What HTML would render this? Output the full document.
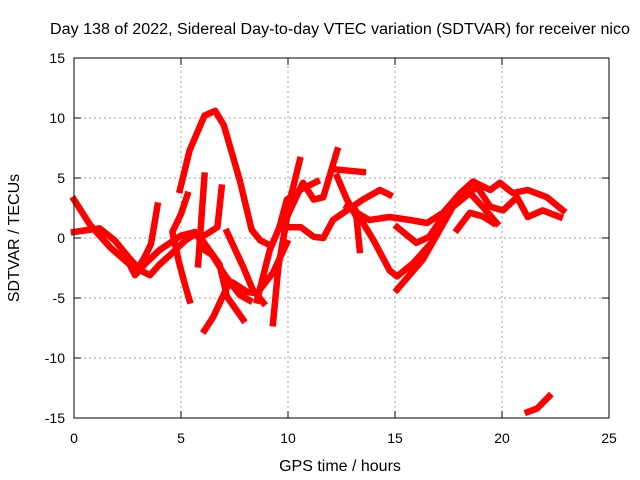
<!DOCTYPE html>
<html><head><meta charset="utf-8"><style>
html,body{margin:0;padding:0;background:#fff;}
svg{display:block;font-family:"Liberation Sans",sans-serif;}
</style></head><body>
<svg id="chart" width="640" height="480">
<text x="340" y="34" font-size="15.5" text-anchor="middle" textLength="580" lengthAdjust="spacingAndGlyphs">Day 138 of 2022, Sidereal Day-to-day VTEC variation (SDTVAR) for receiver nico</text>
<text x="340" y="471" font-size="16" text-anchor="middle">GPS time / hours</text>
<text transform="translate(19,238) rotate(-90)" font-size="16" text-anchor="middle">SDTVAR / TECUs</text>
<g id="grid"></g><g id="ticks"></g><g id="series"></g>
<rect x="74" y="58" width="535" height="360" fill="none" stroke="#000" stroke-width="1"/>
</svg>
<script>
const xTicks=[0,5,10,15,20,25];
const yTicks=[-15,-10,-5,0,5,10,15];
const trackA=[[4.95,4.0],[5.4,7.3],[6.1,10.2],[6.6,10.6],[7.0,9.4],[7.75,4.8],[8.3,0.7],[8.7,-0.2],[9.15,-0.6]];
const trackB=[[0,3.2],[0.75,1.1],[1.7,-0.8],[2.6,-2.2],[2.85,-3.1],[3.3,-2.2],[4.0,-1.0],[5.0,0.2],[5.65,0.5],[5.9,-0.2],[6.1,-1],[6.45,-1.4],[7.05,-3.1],[7.75,-4.75],[8.2,-5.2]];
const trackC=[[0,0.5],[1.2,0.8],[1.9,-0.2],[2.6,-1.7],[3.1,-2.7],[3.55,-3.1],[4.0,-2.2],[4.5,-1.4],[5.2,-0.2],[5.65,0.3]];
const trackD=[[3.9,2.7],[3.6,-0.5],[3.3,-1.6],[3.1,-2.2]];
const trackF=[[5.3,3.6],[5.0,2.0],[4.6,0.5],[4.9,-2],[5.2,-4],[5.4,-5.2]];
const trackG=[[6.1,5.2],[5.95,1.5],[5.8,-2.2]];
const trackG2=[[6.0,-0.2],[6.8,-2.2],[7.15,-4.9],[7.9,-6.8]];
const trackH=[[6.9,4.2],[6.7,0.9],[6.0,0.1]];
const trackI=[[6.1,-7.7],[6.5,-6.6],[7.15,-4.1],[7.4,-3.7],[8.1,-4.5],[8.55,-4.6],[9.3,-2.9],[9.95,-0.4]];
const trackJ=[[7.15,0.5],[7.9,-2.4],[8.35,-4.3],[8.85,-5.4]];
const trackK=[[9.3,-7.1],[9.55,-2.4],[10.1,3.2],[10.55,6.5]];
const trackL=[[8.55,-5.2],[9.15,-1],[9.6,0.9],[9.95,3.2],[10.55,4],[11.35,4.7]];
const trackN=[[9.95,1.75],[10.7,4.6],[11.2,3.2],[11.65,3.4],[12.3,7.3]];
const trackO=[[10.1,0.9],[10.6,0.9],[11.2,0.1],[11.65,0],[12.1,1.5],[12.75,2.3],[13.5,3.2],[14.3,4],[14.75,3.6]];
const trackP=[[12.3,5.7],[13.5,5.5]];
const trackQ=[[12.3,5.1],[12.75,3.2],[13.2,1.75],[13.35,-1]];
const trackR=[[12.75,2.6],[13.8,1.5],[14.75,1.75],[15.7,1.5],[16.5,1.25],[17.25,2.1],[18.05,3.75],[18.65,4.7],[19.45,4],[19.9,4.6],[20.5,3.75],[21.2,4],[22.1,3.4],[22.85,2.3]];
const trackS=[[13.05,2.6],[14.0,-0.2],[14.75,-2.7],[15.1,-3.2],[15.85,-2.1],[16.8,-0.2],[17.25,1.5]];
const trackT=[[15.1,-4.3],[16.3,-1.8],[17.1,0.7],[17.7,2.6],[18.5,3.75],[19.1,2.6],[19.75,1.25]];
const trackU=[[15.1,0.9],[16.0,-0.4],[16.6,0.1],[17.55,2.6],[18.2,3.4],[18.85,4.25],[19.45,2.6],[20.05,2.3],[20.7,3.4],[21.2,1.75],[21.9,2.3],[22.7,1.75]];
const trackV=[[17.9,0.7],[18.5,2.1],[19.1,1.8],[19.6,1.25]];
const trackX=[[21.2,-14.5],[21.65,-14.2],[22.2,-13.2]];
const tracks=[trackA,trackB,trackC,trackD,trackF,trackG,trackG2,trackH,trackI,trackJ,trackK,trackL,trackN,trackO,trackP,trackQ,trackR,trackS,trackT,trackU,trackV,trackX];

const NS="http://www.w3.org/2000/svg";
const X0=74,X1=609,Y0=418,Y1=58;
function xs(v){return X0+(v-0)/25*(X1-X0);}
function ys(v){return Y0-(v+15)/30*(Y0-Y1);}
function mk(t,a,p){const e=document.createElementNS(NS,t);for(const k in a)e.setAttribute(k,a[k]);p.appendChild(e);return e;}
const grid=document.getElementById('grid'),ticks=document.getElementById('ticks'),ser=document.getElementById('series');
xTicks.forEach(v=>{
  const x=xs(v);
  if(v>0&&v<25){const g=mk('line',{x1:x,y1:Y0,x2:x,y2:Y1,stroke:'#a0a0a0','stroke-dasharray':'2,3'},grid);
  
  }
  mk('line',{x1:x,y1:Y0,x2:x,y2:Y0-7,stroke:'#000'},ticks);
  mk('line',{x1:x,y1:Y1,x2:x,y2:Y1+7,stroke:'#000'},ticks);
  const t=mk('text',{x:x,y:Y0+25,'font-size':14,'text-anchor':'middle'},ticks);t.textContent=v;
  
  
});
yTicks.forEach(v=>{
  const y=ys(v);
  if(v>-15&&v<15){const g=mk('line',{x1:X0,y1:y,x2:X1,y2:y,stroke:'#a0a0a0','stroke-dasharray':'2,3'},grid);
  
  }
  mk('line',{x1:X0,y1:y,x2:X0+7,y2:y,stroke:'#000'},ticks);
  mk('line',{x1:X1,y1:y,x2:X1-7,y2:y,stroke:'#000'},ticks);
  const t=mk('text',{x:X0-9,y:y+5,'font-size':14,'text-anchor':'end'},ticks);t.textContent=v;
  
  
});
tracks.forEach(tr=>{
  const pts=tr.map(p=>xs(p[0]).toFixed(1)+','+ys(p[1]).toFixed(1)).join(' ');
  const pl=mk('polyline',{points:pts,fill:'none',stroke:'#ff0000','stroke-width':6.5,'stroke-linejoin':'round','stroke-linecap':'square'},ser);
  
  
});
</script>
</body></html>
